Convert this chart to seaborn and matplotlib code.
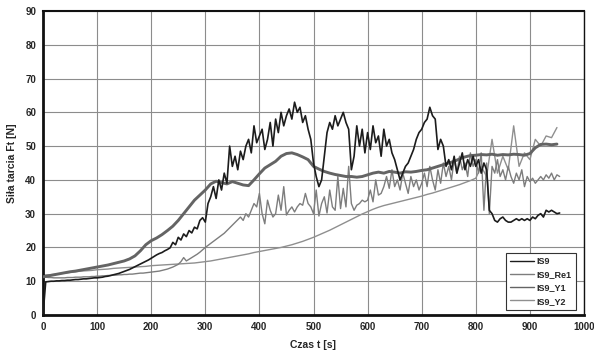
import numpy as np
import pandas as pd
import matplotlib
matplotlib.use("Agg")
import matplotlib.pyplot as plt
import seaborn as sns

# time axes (s)
t5 = list(range(0, 960, 5))
t10 = list(range(0, 960, 10))

is9 = [
    0, 9.8, 9.9, 10.0, 10.0, 10.1, 10.1, 10.2, 10.2, 10.3, 10.3, 10.4, 10.5, 10.5, 10.6, 10.7, 10.7, 10.8, 10.9, 11.0,
    11.0, 11.1, 11.2, 11.4, 11.5, 11.7, 11.9, 12.1, 12.3, 12.6, 12.9, 13.2, 13.5, 13.9, 14.3, 14.7, 15.1, 15.5, 15.9, 16.3,
    16.8, 17.3, 17.8, 18.2, 18.5, 19.0, 19.4, 19.9, 21.5, 20.8, 23.0, 22.2, 24.0, 23.2, 25.0, 24.3, 26.0, 25.5, 28.0, 28.8,
    27.5, 33.0, 35.0, 38.0, 34.5, 40.0, 37.0, 42.0, 39.0, 50.0, 44.0, 47.0, 43.0, 48.5, 46.0, 50.0, 52.0, 48.0, 56.0, 51.0,
    53.0, 55.0, 49.0, 52.0, 57.0, 50.0, 58.0, 54.0, 60.0, 56.0, 59.0, 61.0, 58.0, 63.0, 60.0, 61.5, 57.0, 59.0, 55.0, 52.0,
    45.0, 41.0, 38.0, 40.0, 47.0, 54.0, 57.0, 55.0, 59.0, 56.0, 58.0, 60.0, 57.0, 55.0, 43.0, 47.0, 56.0, 50.0, 55.0, 48.0,
    54.0, 49.0, 56.0, 51.0, 53.0, 47.0, 55.0, 50.0, 52.0, 48.0, 46.0, 43.0, 40.0, 42.0, 44.0, 45.0, 47.0, 49.0, 52.0, 54.0,
    55.0, 57.0, 58.0, 61.5, 59.0, 58.0, 49.0, 52.0, 50.0, 44.0, 46.0, 43.0, 47.0, 42.0, 45.0, 48.0, 43.0, 46.0, 44.0, 47.0,
    44.0, 46.0, 42.0, 45.0, 43.0, 31.0, 30.0, 28.0, 27.5, 28.5, 29.0, 28.0, 27.5, 27.5, 28.0, 28.5, 28.0, 28.5, 28.0, 28.5,
    28.0, 29.0, 28.5, 29.5, 30.0, 29.0, 31.0, 30.5, 31.0, 30.5, 30.0, 30.2,
]

is9_re1 = [
    11.2, 11.2, 11.1, 11.1, 11.0, 11.0, 11.0, 11.0, 11.0, 11.1, 11.1, 11.1, 11.2, 11.2, 11.2, 11.3, 11.3, 11.3, 11.4, 11.4,
    11.5, 11.5, 11.6, 11.6, 11.7, 11.7, 11.8, 11.8, 11.9, 11.9, 12.0, 12.0, 12.1, 12.1, 12.2, 12.3, 12.4, 12.4, 12.5, 12.6,
    12.7, 12.8, 12.9, 13.0, 13.2, 13.4, 13.6, 13.9, 14.2, 14.6, 15.0, 15.8, 17.0, 16.0, 16.5, 17.0, 17.5, 18.0, 18.6, 19.3,
    20.0, 20.6, 21.2, 21.8, 22.4, 23.0, 23.6, 24.2, 25.0, 25.8, 26.6, 27.4, 28.2, 29.0, 28.0, 30.0, 29.0, 31.0, 33.0, 32.0,
    36.0, 30.0, 27.0, 34.0, 31.0, 29.0, 30.0, 35.5, 31.0, 38.0, 29.6, 31.0, 32.0, 30.5, 32.0, 33.0, 32.5, 36.0, 33.0, 32.0,
    30.0, 37.0, 29.3, 33.0, 35.0, 30.2, 37.0, 32.0, 31.0, 41.0, 31.5, 37.5, 32.0, 44.0, 33.0, 31.0, 32.5, 33.0, 34.0, 33.5,
    34.0, 37.0, 33.5, 40.0, 35.5, 36.0, 38.0, 41.0, 37.5, 43.0, 38.0, 40.0, 37.0, 42.0, 39.0, 36.0, 41.0, 38.0, 40.0, 37.0,
    39.0, 42.0, 38.0, 44.0, 40.0, 37.0, 43.0, 39.0, 45.0, 41.0, 44.0, 40.0, 46.0, 42.0, 47.0, 43.0, 45.0, 41.0, 48.0, 44.0,
    46.0, 42.0, 48.0, 31.0, 45.0, 30.0, 44.0, 42.0, 46.0, 41.0, 43.0, 40.0, 44.0, 41.0, 39.0, 42.0, 40.0, 43.0, 38.0, 41.0,
    39.5, 40.5, 39.0, 40.0, 41.0, 40.0, 41.5, 40.5, 42.0, 40.0, 41.5, 41.0,
]

is9_y1 = [
    11.3, 11.6, 11.9, 12.2, 12.5, 12.8, 13.0, 13.3, 13.6, 13.9,
    14.2, 14.5, 14.8, 15.2, 15.6, 16.0, 16.6, 17.5, 19.0, 20.8,
    22.0, 22.8, 23.8, 25.0, 26.3, 28.0, 30.0, 32.0, 34.0, 35.5,
    37.0, 38.8, 39.6, 39.2, 38.8, 39.5, 39.0, 38.5, 38.3, 40.0,
    41.8, 43.5, 44.5, 45.5, 47.0, 47.8, 48.0, 47.5, 46.8, 46.0,
    44.0, 43.2, 42.5, 42.0, 41.6, 41.3, 41.0, 41.0, 40.8, 41.0,
    41.5, 42.0, 42.3, 42.0, 42.5, 42.3, 42.0, 42.4, 42.3, 42.5,
    42.8, 43.0, 43.5, 44.0, 44.5, 45.0, 45.5, 46.2, 46.8, 47.2,
    47.3, 47.5, 47.4, 47.6, 47.3, 47.5, 47.4, 47.6, 47.5, 47.3,
    47.8, 49.5, 50.5, 50.6, 50.4, 50.6,
]

is9_y2 = [
    11.8, 11.9, 12.0, 12.2, 12.4, 12.6, 12.8, 13.0, 13.1, 13.2,
    13.4, 13.5, 13.6, 13.8, 13.9, 14.0, 14.1, 14.2, 14.3, 14.4,
    14.6, 14.7, 14.8, 14.9, 15.0, 15.1, 15.2, 15.3, 15.4, 15.6,
    15.8, 16.0, 16.3, 16.6, 16.9, 17.2, 17.5, 17.8, 18.1, 18.5,
    18.8, 19.1, 19.4, 19.7, 20.0, 20.4, 20.8, 21.3, 21.8, 22.4,
    23.0, 23.7, 24.4, 25.1, 25.9, 26.7, 27.5, 28.3, 29.1, 29.9,
    30.6, 31.3, 31.9, 32.4, 32.8, 33.2, 33.6, 34.0, 34.4, 34.8,
    35.2, 35.7, 36.1, 36.6, 37.1, 37.6, 38.1, 38.6, 39.2, 39.8,
    40.5, 44.0, 41.0, 52.0, 42.0, 47.0, 43.0, 56.0, 44.0, 48.0,
    46.0, 52.0, 50.0, 53.0, 52.5, 55.5,
]

series_names = ["IS9", "IS9_Re1", "IS9_Y1", "IS9_Y2"]
x_ticks = [0, 100, 200, 300, 400, 500, 600, 700, 800, 900, 1000]
y_ticks = [0, 10, 20, 30, 40, 50, 60, 70, 80, 90]

frames = [
    pd.DataFrame({"t": t5, "F": is9, "s": "IS9"}),
    pd.DataFrame({"t": t5, "F": is9_re1, "s": "IS9_Re1"}),
    pd.DataFrame({"t": t10, "F": is9_y1, "s": "IS9_Y1"}),
    pd.DataFrame({"t": t10, "F": is9_y2, "s": "IS9_Y2"}),
]

styles = {
    "IS9": dict(color="#1c1c1c", lw=1.2),
    "IS9_Re1": dict(color="#7d7d7d", lw=1.0),
    "IS9_Y1": dict(color="#646464", lw=2.1),
    "IS9_Y2": dict(color="#8f8f8f", lw=1.0),
}
zorder = {"IS9_Y2": 2, "IS9_Re1": 3, "IS9_Y1": 4, "IS9": 5}

sns.set_style("white")
plt.rcParams["font.family"] = ["Liberation Sans", "DejaVu Sans"]

fig = plt.figure(figsize=(5.94, 3.52), dpi=100)
ax = fig.add_axes([43 / 594, 1 - 315 / 352, (584 - 43) / 594, (315 - 11) / 352])

for df in frames:
    name = df["s"].iloc[0]
    st = styles[name]
    sns.lineplot(data=df, x="t", y="F", ax=ax, color=st["color"], linewidth=st["lw"],
                 label=name, zorder=zorder[name], estimator=None, sort=False)

ax.set_xlim(0, 1000)
ax.set_ylim(0, 90)
ax.set_xticks(x_ticks)
ax.set_yticks(y_ticks)
ax.set_xticklabels([str(v) for v in x_ticks], fontsize=7, fontweight="bold")
ax.set_yticklabels([str(v) for v in y_ticks], fontsize=7, fontweight="bold")
ax.tick_params(axis="both", length=0, pad=5)
ax.grid(True, color="#8c8c8c", linewidth=0.8)
ax.set_axisbelow(True)

ax.set_xlabel("Czas t [s]", fontsize=7.5, fontweight="bold", labelpad=6)
ax.set_ylabel("Siła tarcia Ft [N]", fontsize=7.5, fontweight="bold", labelpad=6)

for side, lw in [("left", 2.0), ("bottom", 2.0), ("top", 1.5), ("right", 1.0)]:
    ax.spines[side].set_visible(True)
    ax.spines[side].set_color("#111111")
    ax.spines[side].set_linewidth(lw)

handles, labels = ax.get_legend_handles_labels()
leg = ax.legend(handles, labels, loc="lower right", bbox_to_anchor=(0.985, 0.016),
                frameon=True, fancybox=False, edgecolor="#333333", framealpha=1,
                prop={"size": 6.5, "weight": "bold"}, handlelength=2.6,
                handletextpad=0.3, labelspacing=0.45, borderpad=0.5, borderaxespad=0.0)
leg.get_frame().set_linewidth(0.8)
for line in leg.get_lines():
    line.set_linewidth(1.0)

fig.savefig("out.png", dpi=100)
